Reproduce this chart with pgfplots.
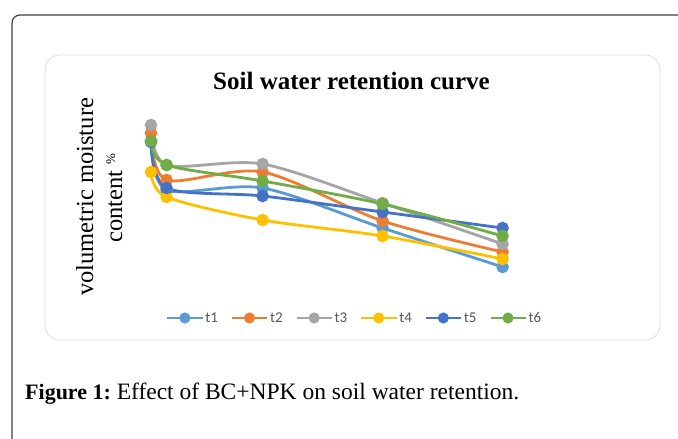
\documentclass[border=0pt]{standalone}
\usepackage{fontspec}
\setmainfont{Liberation Serif}
\newfontfamily\carlito{Carlito}
\usepackage{pgfplots}
\pgfplotsset{compat=1.18}
\definecolor{cA}{HTML}{5B9BD5}
\definecolor{cB}{HTML}{ED7D31}
\definecolor{cC}{HTML}{A5A5A5}
\definecolor{cD}{HTML}{FFC000}
\definecolor{cE}{HTML}{4472C4}
\definecolor{cF}{HTML}{70AD47}
\begin{document}
\begin{tikzpicture}
\useasboundingbox (0pt,0pt) rectangle (678pt,439pt);
\clip (0pt,0pt) rectangle (678pt,439pt);
\fill[white] (0pt,0pt) rectangle (678pt,439pt);
\draw[line width=1.2pt, color=black!75] (12pt,-5pt) -- (12pt,416pt) arc[start angle=180,end angle=90,radius=8pt] -- (690pt,424pt);
\draw[color=black!13, line width=0.8pt, rounded corners=15pt] (45pt,99pt) rectangle (660pt,384pt);
\node[font=\fontsize{25}{29}\selectfont\bfseries, anchor=base] at (351.5pt,349pt) {Soil water retention curve};
\node[rotate=90, anchor=base, font=\fontsize{24.5}{28}\selectfont] at (93pt,242pt) {volumetric moisture};
\node[rotate=90, anchor=base, font=\fontsize{24.5}{28}\selectfont] at (122pt,241pt) {content \raisebox{7pt}{\fontsize{13}{13}\selectfont\%}};
\node[anchor=base west, inner sep=0pt, font=\fontsize{23.5}{26}\selectfont] at (25pt,39pt) {{\fontsize{22}{26}\selectfont\textbf{Figure 1:}}\hspace{-2pt} Effect of BC+NPK on soil water retention.};
\begin{axis}[
  at={(151pt,139pt)}, anchor=south west,
  scale only axis, width=360pt, height=200pt,
  xmin=0, xmax=3, ymin=0, ymax=40,
  hide axis, clip=false,
  every axis plot/.append style={line width=2.8pt, smooth, mark=*, mark size=4.8pt, mark options={solid}},
  legend columns=6,
  legend style={at={(0.566,-0.09)}, anchor=center, draw=none, fill=none,
    font=\carlito\fontsize{15}{15}\selectfont, text=black!65,
    /tikz/every even column/.append style={column sep=11pt}},
  legend image code/.code={\draw[mark repeat=2,mark phase=2,#1,line width=2pt,mark size=4.5pt] plot coordinates {(0pt,0pt)(17.5pt,0pt)(35pt,0pt)};},
]
\addplot[color=cA] coordinates {(0,31.8)(0.13,22.0)(0.93,22.4)(1.93,14.4)(2.93,6.6)};
\addlegendentry{t1}
\addplot[color=cB] coordinates {(0,33.4)(0.13,24.0)(0.93,25.6)(1.93,15.8)(2.93,9.6)};
\addlegendentry{t2}
\addplot[color=cC] coordinates {(0,35.0)(0.13,27.0)(0.93,27.2)(1.93,19.4)(2.93,11.2)};
\addlegendentry{t3}
\addplot[color=cD] coordinates {(0,25.6)(0.13,20.6)(0.93,16.0)(1.93,12.8)(2.93,8.2)};
\addlegendentry{t4}
\addplot[color=cE] coordinates {(0,31.6)(0.13,22.4)(0.93,20.8)(1.93,17.6)(2.93,14.4)};
\addlegendentry{t5}
\addplot[color=cF] coordinates {(0,31.8)(0.13,27.0)(0.93,23.8)(1.93,19.2)(2.93,12.8)};
\addlegendentry{t6}
\end{axis}
\end{tikzpicture}
\end{document}
